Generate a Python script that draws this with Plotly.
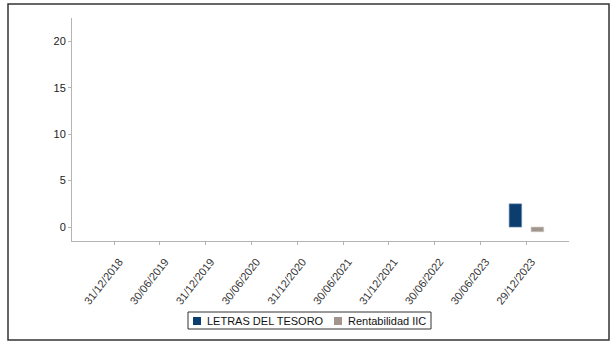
import plotly.graph_objects as go

# Fechas de valoración (categorías del eje X)
fechas = ["31/12/2018", "30/06/2019", "31/12/2019", "30/06/2020", "31/12/2020",
          "30/06/2021", "31/12/2021", "30/06/2022", "30/06/2023", "29/12/2023"]

# Rentabilidades (%) por serie; sin dato en las fechas anteriores
letras_tesoro = [None, None, None, None, None, None, None, None, None, 2.5]
rentabilidad_iic = [None, None, None, None, None, None, None, None, None, -0.5]

y_ticks = [0, 5, 10, 15, 20]

series = [
    ("LETRAS DEL TESORO", letras_tesoro, "#0b3d6e", "#6f8fb3"),
    ("Rentabilidad IIC", rentabilidad_iic, "#a0968d", "#c8c2bc"),
]

fig = go.Figure()
for nombre, valores, color, borde in series:
    fig.add_trace(go.Bar(
        x=fechas, y=valores, name=nombre, showlegend=False,
        marker=dict(color=color, line=dict(color=borde, width=0.6)),
    ))

W, H = 614, 343
L, R, T, B = 72, 45, 18, 102
pw, ph = W - L - R, H - T - B

def px_x(x):
    return (x - L) / pw

def px_y(y):
    return (H - B - y) / ph

FONT = "Liberation Sans, Arial, sans-serif"

shapes = [
    # marco exterior del gráfico
    dict(type="rect", xref="paper", yref="paper",
         x0=px_x(8), x1=px_x(609), y0=px_y(340), y1=px_y(4),
         line=dict(color="#333", width=1.5), layer="below"),
    # caja de la leyenda
    dict(type="rect", xref="paper", yref="paper",
         x0=px_x(188), x1=px_x(431), y0=px_y(329), y1=px_y(312),
         line=dict(color="#333", width=1), fillcolor="white"),
]
annotations = []

# leyenda: cuadrado de color + texto de cada serie
legend_pos = [(193, 205), (334, 346)]
for (nombre, _, color, _b), (sx, tx) in zip(series, legend_pos):
    shapes.append(dict(type="rect", xref="paper", yref="paper",
                       x0=px_x(sx), x1=px_x(sx + 8), y0=px_y(325), y1=px_y(317),
                       line=dict(width=0), fillcolor=color))
    annotations.append(dict(text=nombre, xref="paper", yref="paper",
                            x=px_x(tx), y=px_y(321), xanchor="left", yanchor="middle",
                            showarrow=False, font=dict(family=FONT, size=11, color="#111")))

fig.update_layout(
    width=W, height=H,
    margin=dict(l=L, r=R, t=T, b=B, autoexpand=False),
    paper_bgcolor="white", plot_bgcolor="white",
    barmode="group", bargap=0.04, bargroupgap=0.43,
    font=dict(family=FONT, size=11, color="#222"),
    showlegend=False,
    xaxis=dict(
        type="category", range=[-0.92, 9.93], automargin=False,
        showline=True, linecolor="#b4b4b4", linewidth=1,
        ticks="outside", ticklen=3, tickcolor="#b4b4b4",
        tickangle=-52, tickfont=dict(size=11, color="#333"),
        ticklabelstandoff=6, ticklabelshift=5,
        showgrid=False, zeroline=False,
    ),
    yaxis=dict(
        range=[-1.5, 22.5], tickvals=y_ticks, automargin=False,
        showline=True, linecolor="#b4b4b4", linewidth=1,
        ticks="outside", ticklen=3, tickcolor="#b4b4b4",
        tickfont=dict(size=11, color="#222"),
        showgrid=False, zeroline=False,
    ),
    shapes=shapes,
    annotations=annotations,
)

fig.write_html("out.html")
